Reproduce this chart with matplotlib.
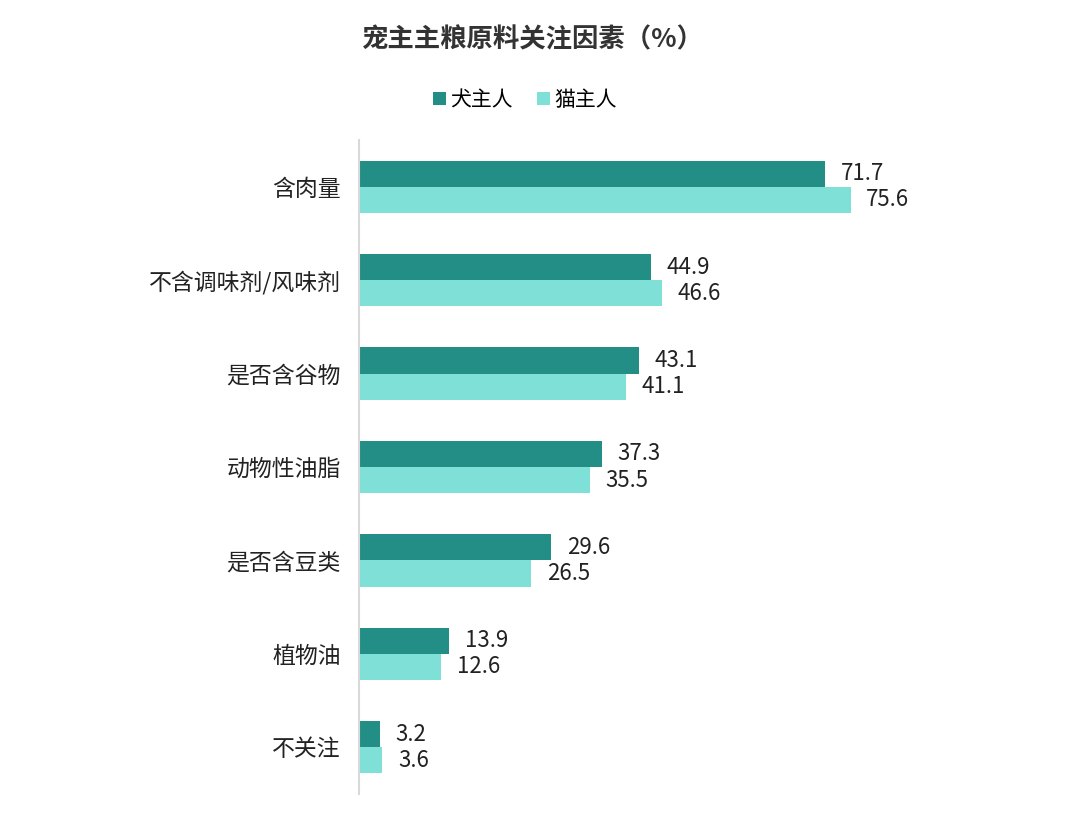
import matplotlib.pyplot as plt
import numpy as np

plt.rcParams['font.family'] = ['Noto Sans CJK SC', 'DejaVu Sans']

categories = ["含肉量", "不含调味剂/风味剂", "是否含谷物", "动物性油脂", "是否含豆类", "植物油", "不关注"]
dog = [71.7, 44.9, 43.1, 37.3, 29.6, 13.9, 3.2]
cat = [75.6, 46.6, 41.1, 35.5, 26.5, 12.6, 3.6]
series_names = ["犬主人", "猫主人"]

dark = "#238E85"
light = "#7FE0D8"

fig = plt.figure(figsize=(10.8, 8.26), dpi=100)
ax = fig.add_axes([0.3324, 0.0387, 0.602, 0.7918])

y = np.arange(len(categories))
h = 0.28
b1 = ax.barh(y - h / 2, dog, height=h, color=dark, label=series_names[0])
b2 = ax.barh(y + h / 2, cat, height=h, color=light, label=series_names[1])

for bars, vals in ((b1, dog), (b2, cat)):
    for bar, v in zip(bars, vals):
        ax.text(v + 2.4, bar.get_y() + bar.get_height() / 2, f"{v:.1f}",
                va="center", ha="left", fontsize=16, color="#222222")

ax.set_ylim(len(categories) - 0.5, -0.5)
ax.set_xlim(0, 100)
ax.set_yticks(y)
ax.set_yticklabels(categories, fontsize=16.5, color="#222222")
ax.tick_params(axis="y", length=0, pad=13)
ax.set_xticks([])
for s in ("top", "right", "bottom"):
    ax.spines[s].set_visible(False)
ax.spines["left"].set_color("#d9d9d9")
ax.spines["left"].set_linewidth(1.5)

fig.text(0.4935, 0.952, "宠主主粮原料关注因素（%）", ha="center", va="center",
         fontsize=19, fontweight="bold", color="#333333")
fig.legend(handles=[b1, b2], loc="center", bbox_to_anchor=(0.486, 0.879), ncol=2,
           frameon=False, fontsize=15, handlelength=0.6, handleheight=0.6,
           handletextpad=0.2, columnspacing=1.2)

fig.savefig("out.png", dpi=100)
